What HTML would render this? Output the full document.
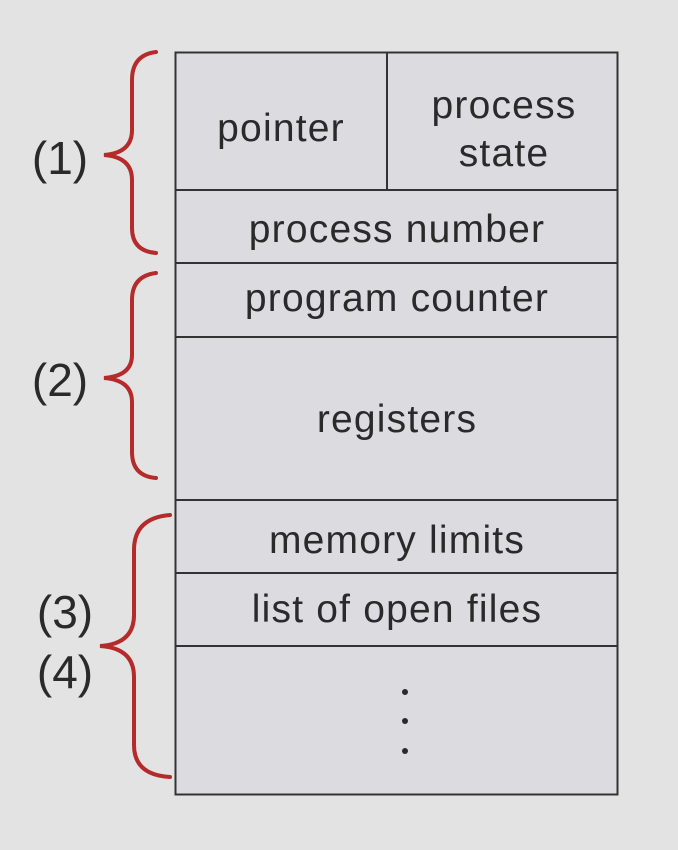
<!DOCTYPE html>
<html><head><meta charset="utf-8"><style>
html,body{margin:0;padding:0;background:#e3e3e3;}
svg{display:block}
text{font-family:"Liberation Sans",sans-serif;fill:#2a2a2a}
</style></head><body>
<svg width="678" height="850" viewBox="0 0 678 850">
<rect x="0" y="0" width="678" height="850" fill="#e3e3e3"/>
<rect x="175.5" y="52.5" width="442" height="742" fill="#dcdce0" stroke="#333" stroke-width="2"/>
<g stroke="#333" stroke-width="2">
<line x1="387" y1="52" x2="387" y2="190"/>
<line x1="175" y1="190" x2="618" y2="190"/>
<line x1="175" y1="263" x2="618" y2="263"/>
<line x1="175" y1="337" x2="618" y2="337"/>
<line x1="175" y1="500" x2="618" y2="500"/>
<line x1="175" y1="573" x2="618" y2="573"/>
<line x1="175" y1="646" x2="618" y2="646"/>
</g>
<g font-size="39" letter-spacing="1.2" text-anchor="middle">
<text x="281" y="141">pointer</text>
<text x="504" y="118">process</text>
<text x="504" y="166">state</text>
<text x="397" y="242">process number</text>
<text x="397" y="311">program counter</text>
<text x="397" y="432">registers</text>
<text x="397" y="553">memory limits</text>
<text x="397" y="622">list of open files</text>
</g>
<g fill="#2a2a2a"><circle cx="405" cy="692" r="3"/><circle cx="405" cy="721" r="3"/><circle cx="405" cy="751" r="3"/></g>
<g fill="none" stroke="#b52a2a" stroke-width="4" stroke-linecap="round">
<path d="M156 52 Q132 55 132 80 L132 130 Q132 153 104 155 Q132 157 132 180 L132 228 Q132 251 156 253"/>
<path d="M156 273 Q132 276 132 300 L132 355 Q132 376 104 378 Q132 380 132 402 L132 452 Q132 476 156 478"/>
<path d="M170 515 Q134 518 134 550 L134 615 Q134 644 100 646 Q134 648 134 677 L134 745 Q134 775 170 777"/>
</g>
<g font-size="46" text-anchor="middle">
<text x="60" y="174">(1)</text>
<text x="60" y="396">(2)</text>
<text x="65" y="628">(3)</text>
<text x="65" y="688">(4)</text>
</g>
</svg>
</body></html>
